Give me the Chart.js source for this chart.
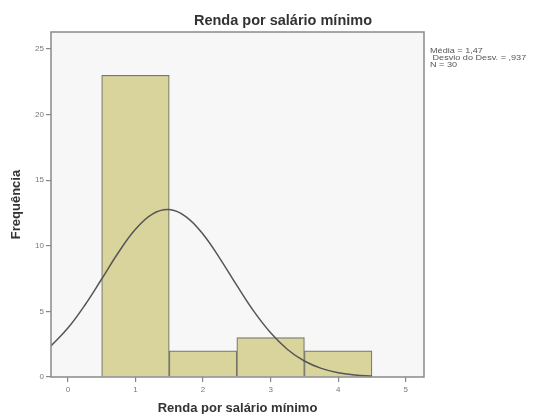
<!DOCTYPE html>
<html>
<head>
<meta charset="utf-8">
<script src="https://cdn.jsdelivr.net/npm/chart.js@4.4.1/dist/chart.umd.min.js"></script>
<style>
  html, body { margin: 0; padding: 0; background: #fff; }
  #wrap { width: 537px; height: 414px; }
</style>
</head>
<body>
<div id="wrap"><canvas id="histChart" width="537" height="414"></canvas></div>
<script>
// Histogram bins (class centre) and frequencies
const binCenters = [1, 2, 3, 4];
const frequencies = [23, 2, 3, 2];

// Normal curve
const curveX = [-0.25, 0, 0.25, 0.5, 0.75, 1, 1.25, 1.5, 1.75, 2, 2.25, 2.5, 2.75, 3, 3.25, 3.5, 3.75, 4, 4.25, 4.5];
const curveY = [2.37, 3.73, 5.47, 7.47, 9.51, 11.26, 12.42, 12.76, 12.21, 10.88, 9.03, 6.98, 5.02, 3.37, 2.1, 1.22, 0.66, 0.33, 0.16, 0.07];

const xTicks = [0, 1, 2, 3, 4, 5];
const yTicks = [0, 5, 10, 15, 20, 25];
const statsLines = ['Média = 1,47', ' Desvio do Desv. = ,937', 'N = 30'];

const FONT = '"Liberation Sans", Arial, sans-serif';

// plot background, frame, title and stats box
const spssFrame = {
    id: 'spssFrame',
    beforeDraw(chart) {
        const { ctx, chartArea: a } = chart;
        ctx.save();
        ctx.fillStyle = '#f7f7f7';
        ctx.fillRect(a.left, a.top, a.right - a.left, a.bottom - a.top);
        ctx.restore();
    },
    afterDraw(chart) {
        const { ctx, chartArea: a } = chart;
        ctx.save();
        ctx.strokeStyle = '#8a8a8a';
        ctx.lineWidth = 1.5;
        ctx.strokeRect(a.left, a.top, a.right - a.left, a.bottom - a.top);

        // title sits centred over plot + side text, like SPSS
        ctx.fillStyle = '#333';
        ctx.font = 'bold 14.5px ' + FONT;
        ctx.textAlign = 'center';
        ctx.textBaseline = 'middle';
        ctx.fillText('Renda por salário mínimo', a.left + 232, a.top - 11);

        // stats text, slightly stretched
        ctx.font = '6.5px ' + FONT;
        ctx.textAlign = 'left';
        ctx.fillStyle = '#555';
        ctx.translate(a.right + 6, a.top + 19);
        ctx.scale(1.4, 1);
        statsLines.forEach((t, i) => {
            ctx.fillText(t, 0, i * 7);
        });
        ctx.restore();
    }
};

const ctx = document.getElementById('histChart').getContext('2d');
const histChart = new Chart(ctx, {
    data: {
        datasets: [{
            type: 'line',
            data: curveX.map((x, i) => ({ x: x, y: curveY[i] })),
            borderColor: '#555',
            borderWidth: 1.5,
            pointRadius: 0,
            tension: 0.4,
            fill: false,
            order: 0
        }, {
            type: 'bar',
            data: binCenters.map((x, i) => ({ x: x, y: frequencies[i] })),
            backgroundColor: '#d9d49c',
            borderColor: '#77776c',
            borderWidth: 1.2,
            barPercentage: 1,
            categoryPercentage: 1,
            order: 1
        }]
    },
    options: {
        responsive: false,
        animation: false,
        layout: { padding: { top: 32, right: 113, left: 0, bottom: 0 } },
        plugins: {
            legend: { display: false },
            tooltip: { enabled: false }
        },
        scales: {
            x: {
                type: 'linear',
                offset: false,
                min: -0.25,
                max: 5.27,
                afterFit: function(scale) { scale.height = 37; },
                afterBuildTicks: function(scale) {
                    scale.ticks = xTicks.map(v => ({ value: v }));
                },
                grid: { drawOnChartArea: false, tickLength: 5, color: '#888', lineWidth: 1.2, offset: false },
                border: { display: false },
                ticks: { color: '#777', font: { family: FONT, size: 8 }, padding: 3 },
                title: {
                    display: true,
                    text: 'Renda por salário mínimo',
                    color: '#333',
                    font: { family: FONT, size: 13, weight: 'bold' },
                    padding: { top: 0, bottom: -2 }
                }
            },
            y: {
                type: 'linear',
                min: 0,
                max: 26.3,
                afterFit: function(scale) { scale.width = 51; },
                afterBuildTicks: function(scale) {
                    scale.ticks = yTicks.map(v => ({ value: v }));
                },
                grid: { drawOnChartArea: false, tickLength: 5, color: '#888', lineWidth: 1.2 },
                border: { display: false },
                ticks: { color: '#777', font: { family: FONT, size: 8 }, padding: 2 },
                title: {
                    display: true,
                    text: 'Frequência',
                    color: '#333',
                    font: { family: FONT, size: 13, weight: 'bold' },
                    padding: { top: 9, bottom: 4 }
                }
            }
        }
    },
    plugins: [spssFrame]
});
</script>
</body>
</html>
